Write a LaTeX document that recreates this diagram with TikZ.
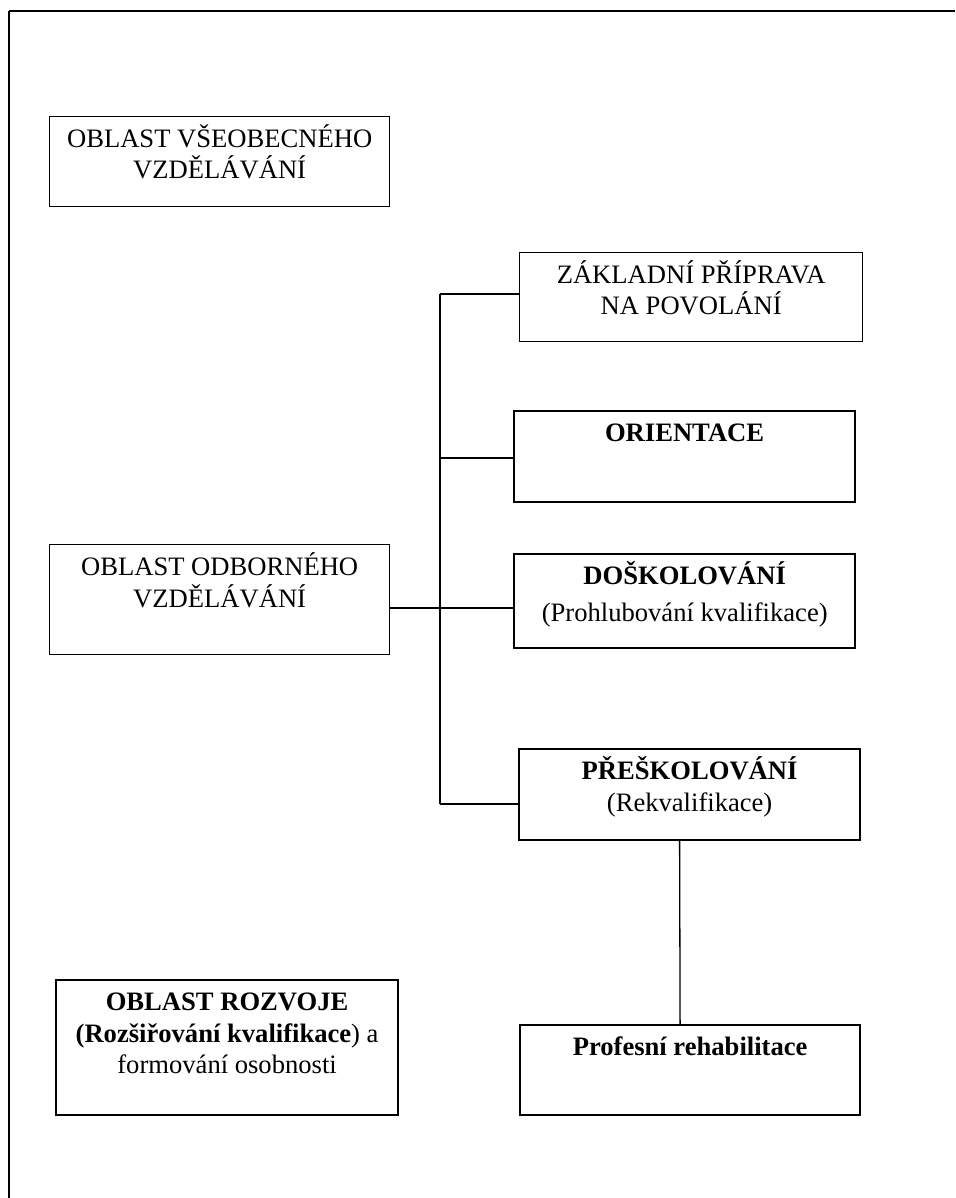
\documentclass[tikz,border=0pt]{standalone}
\usepackage{fontspec}
\setmainfont{Liberation Serif}
\usepackage{tikz}
\usetikzlibrary{calc}
\newcommand{\boxfont}{\fontsize{26.6}{31.5}\selectfont}
\newcommand{\makerect}[7]{
	\node[draw, line width=#6, inner sep=0pt, anchor=north west,
		minimum width={(#4-#2)*1pt}, minimum height={(#5-#3)*1pt}] (#1) at (#2,#3) {};
	\node[anchor=north, align=center, inner sep=0pt, font=\boxfont] at ($(#1.north)+(0,8)$) {\vphantom{ÉŠ}#7};
}

\begin{document}
\begin{tikzpicture}[x=1pt,y=-1pt,line width=1.3pt]
	\useasboundingbox (0,0) rectangle (955,1198);
	\draw[line width=2pt] (9,11) -- (955,11);
	\draw (9,11) -- (9,1198);

	\makerect{vseob}{49}{116}{389}{206}{1.3pt}{OBLAST VŠEOBECNÉHO\\VZDĚLÁVÁNÍ}
	\makerect{zaklad}{519}{252}{862}{341}{1.3pt}{ZÁKLADNÍ PŘÍPRAVA\\NA POVOLÁNÍ}
	\makerect{orient}{513}{410}{854}{501}{2.2pt}{\textbf{ORIENTACE}}
	\makerect{odborne}{49}{544}{389}{654}{1.3pt}{OBLAST ODBORNÉHO\\VZDĚLÁVÁNÍ}
	\makerect{dosk}{513}{553}{854}{647}{2.4pt}{\textbf{DOŠKOLOVÁNÍ}\\[5pt](Prohlubování kvalifikace)}
	\makerect{presk}{518}{748}{859}{839}{2.2pt}{\textbf{PŘEŠKOLOVÁNÍ}\\(Rekvalifikace)}
	\makerect{rozvoj}{55}{979}{397}{1114}{2.2pt}{\textbf{OBLAST ROZVOJE}\\\textbf{(Rozšiřování kvalifikace}) a\\formování osobnosti}
	\makerect{rehab}{519}{1024}{859}{1114}{2.2pt}{\textbf{Profesní rehabilitace}}

	\coordinate (t1) at (440,294);
	\coordinate (t2) at (440,458);
	\coordinate (t3) at (440,608);
	\coordinate (t4) at (440,804);

	\draw (t1) -- (t4);
	\draw (t1) -- (t1 -| zaklad.west);
	\draw (t2) -- (t2 -| orient.west);
	\draw (odborne.east |- t3) -- (t3 -| dosk.west);
	\draw (t4) -- (t4 -| presk.west);
	\draw ([xshift=-10pt]presk.south) -- ([xshift=-10pt]rehab.north);
\end{tikzpicture}
\end{document}
